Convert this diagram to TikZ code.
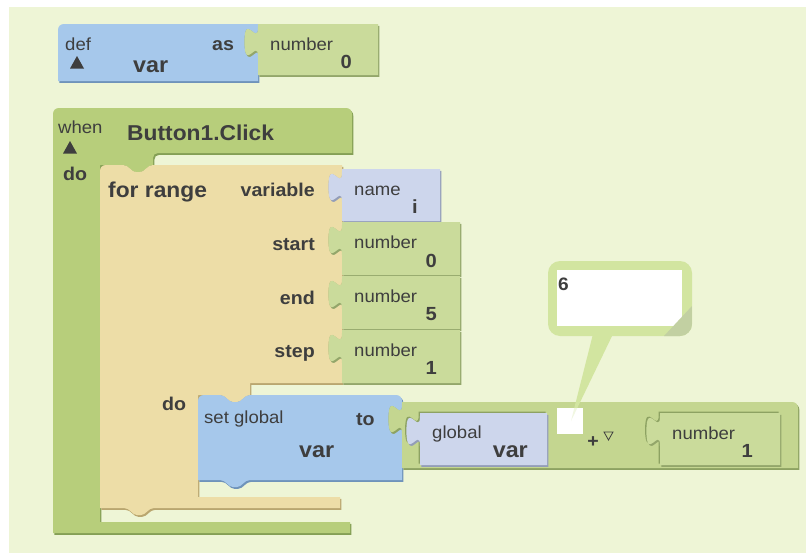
\documentclass[tikz,border=0pt]{standalone}
\usepackage{fontspec}
\setmainfont{Liberation Sans}[FakeStretch=1.06]

\definecolor{canvas}{HTML}{EEF5D6}
\definecolor{evgreen}{HTML}{B7CE7B}
\definecolor{evdark}{HTML}{849F55}
\definecolor{numgreen}{HTML}{CADB9B}
\definecolor{numdark}{HTML}{93A66A}
\definecolor{addgreen}{HTML}{C4D690}
\definecolor{adddark}{HTML}{8DA262}
\definecolor{varblue}{HTML}{A6C8EB}
\definecolor{vardark}{HTML}{6F93BA}
\definecolor{lavender}{HTML}{CDD6EC}
\definecolor{lavdark}{HTML}{939DB8}
\definecolor{loopbeige}{HTML}{EDDDA7}
\definecolor{loopdark}{HTML}{B9A66F}
\definecolor{ink}{HTML}{3E3E3E}
\definecolor{bubble}{HTML}{D2E5A0}
\definecolor{grip}{HTML}{C2D0A2}

% puzzle tab running downwards along a vertical edge at x=#1, starting at y=#2
\newcommand\tabdn[2]{-- (#1,#2) .. controls (#1,#2+20) and (#1-13.6,#2-16) .. (#1-13.6,#2+15) .. controls (#1-13.6,#2+46) and (#1,#2+10) .. (#1,#2+30)}
% statement notch, drawn left to right (dent) or right to left (tab)
\newcommand\notchR[2]{-- (#1,#2) .. controls (#1+6,#2) and (#1+8,#2+7) .. (#1+13,#2+7) -- (#1+17,#2+7) .. controls (#1+22,#2+7) and (#1+24,#2) .. (#1+30,#2)}
\newcommand\notchL[2]{-- (#1+30,#2) .. controls (#1+24,#2) and (#1+22,#2+7) .. (#1+17,#2+7) -- (#1+13,#2+7) .. controls (#1+8,#2+7) and (#1+6,#2) .. (#1,#2)}
% rounded top-left corner as path start
\newcommand\tlc[2]{(#1,#2+6) .. controls (#1,#2+2.5) and (#1+2.5,#2) .. (#1+6,#2)}
% block with a dark lower-right edge
\newcommand\blk[3]{\fill[#2,xshift=1.3pt,yshift=-1.8pt] #3; \fill[#1] #3;}

% block outlines
\newcommand\defshape{\tlc{58}{24} -- (258,24) \tabdn{258}{27} -- (258,81) -- (58,81) -- cycle}
\newcommand\defnum{(258,24) \tabdn{258}{27} -- (258,75) -- (378,75) -- (378,24) -- cycle}
\newcommand\evshape{\tlc{53}{108} -- (346,108) .. controls (349.5,108) and (352,110.5) .. (352,114) -- (352,153) -- (158,153) .. controls (155,153) and (153,155) .. (153,158) \notchL{123}{165} -- (100,165) -- (100,522) -- (350,522) -- (350,533) -- (53,533) -- cycle}
\newcommand\loopshape{\tlc{100}{165} \notchR{123}{165} -- (342,165) \tabdn{342}{172} \tabdn{342}{225} \tabdn{342}{279} \tabdn{342}{333} -- (342,383) -- (250,383) \notchL{220}{395} -- (198,395) -- (198,497) -- (340,497) -- (340,508) \notchL{124}{508} -- (100,508) -- cycle}
\newcommand\nameshape{(342,169) \tabdn{342}{172} -- (342,221) -- (440,221) -- (440,169) -- cycle}
\newcommand\startshape{(342,222) \tabdn{342}{225} -- (342,275) -- (460,275) -- (460,222) -- cycle}
\newcommand\finshape{(342,276) \tabdn{342}{279} -- (342,329) -- (460,329) -- (460,276) -- cycle}
\newcommand\stepshape{(342,330) \tabdn{342}{333} -- (342,383) -- (460,383) -- (460,330) -- cycle}
\newcommand\setshape{\tlc{198}{395} \notchR{220}{395} -- (396,395) .. controls (399.5,395) and (402,397.5) .. (402,401) \tabdn{402}{404} -- (402,480) \notchL{220}{480} -- (198,480) -- cycle}
\newcommand\addshape{(402,402) \tabdn{402}{404} -- (402,468) -- (798,468) -- (798,408) .. controls (798,404.5) and (795.5,402) .. (792,402) -- cycle}
\newcommand\globshape{(420,413) \tabdn{420}{416} -- (420,465) -- (547,465) -- (547,413) -- cycle}
\newcommand\oneshape{(660,413) \tabdn{660}{416} -- (660,465) -- (780,465) -- (780,413) -- cycle}
\newcommand\tailshape{(593,334) -- (613,334) -- (571,421) -- cycle}

\tikzset{
  txt/.style={inner sep=0pt, text=ink, font=\fontsize{17.5}{20}\selectfont},
  lab/.style={inner sep=0pt, text=ink, font=\fontsize{18.5}{21}\selectfont\bfseries},
  ttl/.style={inner sep=0pt, text=ink, font=\fontsize{21.5}{24}\selectfont\bfseries},
  val/.style={inner sep=0pt, text=ink, font=\fontsize{19}{22}\selectfont\bfseries},
  vname/.style={inner sep=0pt, text=ink, font=\fontsize{22}{25}\selectfont\bfseries},
}

\begin{document}
\begin{tikzpicture}[x=1pt, y=-1pt]
\useasboundingbox (0,0) rectangle (806,554);
\fill[white] (0,0) rectangle (806,554);
\fill[canvas] (9,7) rectangle (806,553);

% global variable definition
\blk{varblue}{vardark}{\defshape}
\blk{numgreen}{numdark}{\defnum}
\node[txt, anchor=base west] (deflbl) at (65,50) {def};
\fill[ink] (70,68.5) -- (84,68.5) -- (77,56) -- cycle;
\node[vname, anchor=base west] (defvar) at (133,72) {var};
\node[lab, anchor=base west] (aslbl) at (212,50) {as};
\node[txt, anchor=base west] (defnumlbl) at (270,50) {number};
\node[val, anchor=base east] (defnumval) at (352,68) {0};

% event handler
\blk{evgreen}{evdark}{\evshape}
\node[txt, anchor=base west] (whenlbl) at (58,133) {when};
\fill[ink] (63,153.5) -- (77,153.5) -- (70,141) -- cycle;
\node[ttl, anchor=base west] (evname) at (127,140) {Button1.Click};
\node[lab, anchor=base west] (evdo) at (63,180) {do};

% for range loop
\blk{loopbeige}{loopdark}{\loopshape}
\node[ttl, anchor=base west] (looplbl) at (108,197) {for range};
\node[lab, anchor=base east] (varlbl) at (315,196) {variable};
\node[lab, anchor=base east] (startlbl) at (315,250) {start};
\node[lab, anchor=base east] (endlbl) at (315,304) {end};
\node[lab, anchor=base east] (steplbl) at (315,357) {step};
\node[lab, anchor=base west] (loopdo) at (162,410) {do};

\blk{lavender}{lavdark}{\nameshape}
\node[txt, anchor=base west] (namelbl) at (354,195) {name};
\node[val, anchor=base east] (nameval) at (418,213) {i};
\blk{numgreen}{numdark}{\startshape}
\node[txt, anchor=base west] (startnum) at (354,248) {number};
\node[val, anchor=base east] (startval) at (437,267) {0};
\blk{numgreen}{numdark}{\finshape}
\node[txt, anchor=base west] (endnum) at (354,302) {number};
\node[val, anchor=base east] (endval) at (437,320) {5};
\blk{numgreen}{numdark}{\stepshape}
\node[txt, anchor=base west] (stepnum) at (354,356) {number};
\node[val, anchor=base east] (stepval) at (437,374) {1};

% set global var to var + 1
\blk{varblue}{vardark}{\setshape}
\node[txt, anchor=base west] (setlbl) at (204,423) {set global};
\node[lab, anchor=base west] (tolbl) at (356,425) {to};
\node[vname, anchor=base west] (setvar) at (299,457) {var};

\blk{addgreen}{adddark}{\addshape}
\fill[adddark, xshift=-1.3pt, yshift=1.3pt] \globshape;
\blk{lavender}{lavdark}{\globshape}
\node[txt, anchor=base west] (globlbl) at (432,438) {global};
\node[vname, anchor=base east] (globvar) at (528,457) {var};
\fill[adddark, xshift=-1.3pt, yshift=1.3pt] \oneshape;
\blk{numgreen}{numdark}{\oneshape}
\node[txt, anchor=base west] (onenum) at (672,439) {number};
\node[val, anchor=base east] (oneval) at (753,457) {1};
\node[lab, anchor=center] (pluslbl) at (593,442) {+};
\draw[ink, line width=0.8pt] (604,432) -- (613,432) -- (608.5,440) -- cycle;

% result bubble with its pointer
\fill[bubble] \tailshape;
\fill[white] (557,408) rectangle (583,434);
\begin{scope}
  \clip (557,408) rectangle (583,434);
  \fill[bubble, opacity=0.3] \tailshape;
\end{scope}
\fill[bubble, rounded corners=12pt] (548,261) rectangle (692,336);
\fill[white] (557,270) rectangle (682,326);
\begin{scope}
  \clip[rounded corners=12pt] (548,261) rectangle (692,336);
  \fill[grip] (664,336) -- (692,336) -- (692,306) -- cycle;
\end{scope}
\node[val, anchor=base west, font=\fontsize{18}{21}\selectfont\bfseries] (result) at (558,290) {6};
\end{tikzpicture}
\end{document}
